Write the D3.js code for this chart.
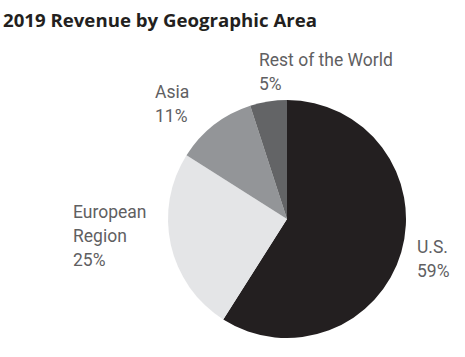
<!DOCTYPE html>
<html><head><meta charset="utf-8">
<script src="https://cdn.jsdelivr.net/npm/d3@7"></script>
<style>body{margin:0;background:#fff}svg{display:block}</style>
</head><body>
<svg id="c" width="465" height="357"></svg>
<script>
const categories = ["U.S.", "European Region", "Asia", "Rest of the World"];
const values = [59, 25, 11, 5];
const labelLines = [["U.S.", "59%"], ["European", "Region", "25%"], ["Asia", "11%"], ["Rest of the World", "5%"]];
const colors = ["#231f20", "#e4e5e7", "#939598", "#636466"];

const svg = d3.select("#c");
const cx = 287, cy = 219, r = 119;

const title = svg.append("text").attr("x", 3).attr("y", 27)
  .attr("font-family", "'Open Sans', sans-serif").attr("font-weight", 700)
  .attr("font-size", 17.5).attr("fill", "#231f20")
  .text("2019 Revenue by Geographic Area");
const tw = title.node().getComputedTextLength();
if (Math.abs(tw - 314) > 4) title.attr("textLength", 314).attr("lengthAdjust", "spacingAndGlyphs");

const pie = d3.pie().sort(null).value(d => d)(values);
const arc = d3.arc().innerRadius(0).outerRadius(r);
const g = svg.append("g").attr("transform", `translate(${cx},${cy})`);
g.selectAll("path").data(pie).join("path")
  .attr("d", arc).attr("fill", (d, i) => colors[i]);

const labelPos = [[417, 253], [73, 218], [155, 98], [259, 66]];
const lh = 23.8;
labelLines.forEach((lines, i) => {
  const t = svg.append("text").attr("font-family", "Roboto, sans-serif")
    .attr("font-weight", 400).attr("font-size", 17.5).attr("fill", "#5f6062");
  lines.forEach((l, j) => {
    t.append("tspan").attr("x", labelPos[i][0]).attr("y", labelPos[i][1] + j * lh).text(l);
  });
});
</script>
</body></html>
